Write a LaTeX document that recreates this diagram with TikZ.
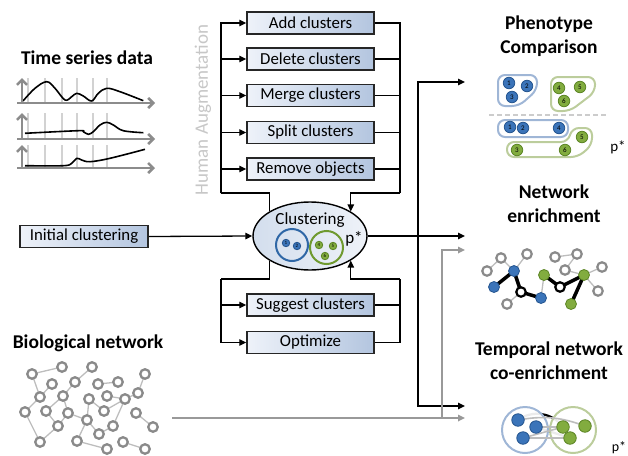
\documentclass[tikz,border=0pt]{standalone}
\usepackage{fontspec}
\setmainfont{Carlito}
\usetikzlibrary{arrows.meta,shapes.geometric}
\definecolor{boxL}{HTML}{EEF2F9}
\definecolor{boxR}{HTML}{B3C5DF}
\definecolor{ellL}{HTML}{D3DEED}
\definecolor{ellR}{HTML}{EEF2F8}
\definecolor{nblue}{HTML}{3B74B9}
\definecolor{nblueD}{HTML}{25558F}
\definecolor{ngreen}{HTML}{82AC3F}
\definecolor{ngreenD}{HTML}{5C8525}
\definecolor{hblue}{HTML}{9FB6D6}
\definecolor{hgreen}{HTML}{BCCD9C}
\definecolor{cblue}{HTML}{2F67A6}
\definecolor{cgreen}{HTML}{6F9A2F}
\definecolor{axgray}{HTML}{8C8C8C}
\definecolor{grid}{HTML}{D2D2D2}
\definecolor{ngray}{HTML}{8A8A8A}
\definecolor{egray}{HTML}{BDBDBD}
\definecolor{lgray}{HTML}{999999}
\begin{document}
\begin{tikzpicture}[x=1pt,y=-1pt,
  opbox/.style={draw=black!85, line width=1.5pt, left color=boxL, right color=boxR,
    minimum width=127pt, minimum height=22pt, inner sep=0pt, font=\fontsize{16.8}{17}\selectfont},
  ttl/.style={font=\fontsize{19.5}{24}\selectfont\bfseries, align=center},
  conn/.style={line width=1.3pt, draw=black},
  arr/.style={conn, -{Triangle[length=7pt,width=6.5pt]}},
  gconn/.style={line width=1.6pt, draw=lgray},
  garr/.style={gconn, -{Triangle[length=7pt,width=6.5pt]}},
  axis/.style={line width=2.6pt, draw=axgray, -{Straight Barb[length=5pt,width=10pt]}},
  gridl/.style={line width=1.8pt, draw=grid},
  curve/.style={line width=1.6pt, draw=black, line join=round},
  bnode/.style={circle, draw=ngray, fill=white, line width=2.3pt, minimum size=9.5pt, inner sep=0pt},
  bedge/.style={line width=1.3pt, draw=egray},
  pblue/.style={circle, draw=nblueD, fill=nblue, line width=0.8pt, minimum size=11.5pt, inner sep=0pt, font=\fontsize{7}{7}\selectfont},
  pgreen/.style={circle, draw=ngreenD, fill=ngreen, line width=0.8pt, minimum size=11.5pt, inner sep=0pt, font=\fontsize{7}{7}\selectfont},
  sblue/.style={pblue, minimum size=7.5pt, font=\fontsize{5}{5}\selectfont},
  sgreen/.style={pgreen, minimum size=7.5pt, font=\fontsize{5}{5}\selectfont},
  hullb/.style={draw=hblue, line width=2pt, rounded corners=7pt},
  hullg/.style={draw=hgreen, line width=2pt, rounded corners=7pt},
  enode/.style={circle, draw=ngray, fill=white, line width=2.2pt, minimum size=9.5pt, inner sep=0pt},
  kbnode/.style={circle, draw=black, fill=white, line width=2.2pt, minimum size=9.5pt, inner sep=0pt},
  eblue/.style={circle, draw=nblueD, fill=nblue, line width=0.8pt, minimum size=11pt, inner sep=0pt},
  egreen/.style={circle, draw=ngreenD, fill=ngreen, line width=0.8pt, minimum size=11pt, inner sep=0pt},
  thin/.style={line width=1.3pt, draw=egray},
  thick/.style={line width=3.5pt, draw=black},
  pstar/.style={font=\fontsize{17}{17}\selectfont}
]
\useasboundingbox (0,0) rectangle (628,455);

% ---------- Time series ----------
\node[ttl] (tsd) at (87,58) {Time series data};
\foreach \ax/\ay in {103/78, 139/113, 168/145}{
  \foreach \gx in {28,45,62,77,93,107}{
    \draw[gridl] (\gx,\ax) -- (\gx,\ay);
  }
}
\draw[curve] plot[smooth, tension=0.6] coordinates {(23,101) (35,88.3) (46.7,81.7) (55,88.3) (65,100) (71.7,96.7) (76.7,93.3) (83.3,96) (91.7,101) (98.3,93.3) (106.7,88.3) (120,91.7) (143.3,100.7)};
\draw[curve] plot[smooth, tension=0.6] coordinates {(25,133.3) (78.3,130.7) (83.3,131.7) (88.3,134.3) (93.3,131.7) (100,125) (106.7,122.3) (113.3,125) (123.3,130.7) (143.3,132.7)};
\draw[curve] plot[smooth, tension=0.6] coordinates {(25,165.7) (63.3,165.7) (71.7,163.3) (76.7,158.3) (81.7,160) (90,161.7) (110,158.3) (145,149.3)};
\foreach \ax/\ay in {103/78, 139/113, 168/145}{
  \draw[axis] (17,\ax) -- (155,\ax);
  \draw[axis] (22,\ax) -- (22,\ay);
}

% ---------- Human augmentation ----------
\node[rotate=90, text=black!22, font=\fontsize{19}{19}\selectfont] (hum) at (203,110) {Human Augmentation};

% ---------- Operation boxes ----------
\node[opbox] (add) at (310.5,23) {Add clusters};
\node[opbox] (del) at (310.5,59) {Delete clusters};
\node[opbox] (mer) at (310.5,95.5) {Merge clusters};
\node[opbox] (spl) at (310.5,132.5) {Split clusters};
\node[opbox] (rem) at (310.5,169) {Remove objects};
\node[opbox] (sug) at (310.5,305) {Suggest clusters};
\node[opbox] (opt) at (310.5,342.5) {Optimize};
\node[opbox, minimum width=128pt] (init) at (84,236.5) {Initial clustering};

% ---------- Clustering ellipse ----------
\node[ellipse, draw=black, line width=1.4pt, left color=ellL, right color=ellR,
  minimum width=114pt, minimum height=68pt, inner sep=0pt] (clust) at (310,236) {};
\node[font=\fontsize{17}{17}\selectfont] (clab) at (310,220) {Clustering};
\node[circle, draw=cblue, line width=2pt, minimum size=32pt, inner sep=0pt] (cb) at (292,245) {};
\node[circle, draw=cgreen, line width=2pt, minimum size=33pt, inner sep=0pt] (cg) at (326.5,247.5) {};
\node[sblue] (i1) at (286,243) {1};
\node[sblue] (i2) at (297,246) {2};
\node[sgreen] (i4) at (319,245) {4};
\node[sgreen] (i5) at (333,246) {5};
\node[sgreen] (i6) at (325,256) {6};
\node[pstar] (cp) at (354,239) {p*};

% ---------- connectors around ellipse ----------
\coordinate (lt) at (221,193);
\coordinate (rt) at (400,193);
\coordinate (lb) at (221,279);
\coordinate (rb) at (400,279);
\draw[conn] (clust.north west) |- (lt);
\foreach \b in {add,del,mer,spl,rem}{
  \draw[arr] (lt) |- (\b.west);
  \draw[conn] (\b.east) -| (rt);
}
\draw[arr] (rt) -| (clust.north east);
\draw[conn] (clust.south west) |- (lb);
\foreach \b in {sug,opt}{
  \draw[arr] (lb) |- (\b.west);
  \draw[conn] (\b.east) -| (rb);
}
\draw[arr] (rb) -| (clust.south east);
\draw[arr] (init.east) -- (clust.west);

% ---------- outputs ----------
\coordinate (split) at (418,236);
\coordinate (tphen) at (465,82);
\coordinate (tnet) at (465,236);
\coordinate (ttemp) at (465,406);
\draw[conn] (clust.east) -- (split);
\draw[arr] (split) -- (tnet);
\draw[arr] (split) |- (tphen);
\draw[arr] (split) |- (ttemp);
\coordinate (gstart) at (172,418);
\coordinate (gsplit) at (442,418);
\coordinate (gtemp) at (465,418);
\coordinate (gnet) at (465,250);
\draw[garr] (gstart) -- (gtemp);
\draw[garr] (gsplit) |- (gnet);

% ---------- Biological network ----------
\node[ttl] (bio) at (88,343) {Biological network};
\foreach \n/\x/\y in {a/32/374, b/62/367, c/92/367, d/52/384, e/75/382, f/40/397, g/63/396,
  h/98/384, i/118/382, j/145/374, k/107/396, l/138/393, m/125/399, n/25/412, o/46/411,
  p/68/413, q/89/399, r/104/411, s/136/413, t/87/420, u/58/426, v/113/426, w/153/427,
  x/99/434, y/40/442, z/77/441, A/123/442, B/107/449, C/145/449}{
  \coordinate (bc\n) at (\x,\y);
}
\foreach \p/\q in {a/b, c/e, a/f, d/f, e/g, g/o, f/n, n/y, y/u, u/o, u/p, g/p, p/t, t/q,
  t/z, t/x, z/B, q/r, h/i, k/m, r/m, m/l, l/j, m/v, s/w, A/C, x/v}{
  \draw[bedge] (bc\p) -- (bc\q);
}
\foreach \n in {a,b,c,d,e,f,g,h,i,j,k,l,m,n,o,p,q,r,s,t,u,v,w,x,y,z,A,B,C}{
  \node[bnode] (bn\n) at (bc\n) {};
}

% ---------- Phenotype comparison ----------
\node[ttl] (phen) at (549,36) {Phenotype\\Comparison};
\draw[hullb] (498,75) -- (537,75) -- (537,90) -- (519,106) -- (498,106) -- cycle;
\draw[hullg] (551,77) -- (595,77) -- (595,92) -- (570,111) -- (551,111) -- cycle;
\draw[line width=1.3pt, draw=black!20, dash pattern=on 5pt off 3pt] (489,115) -- (608,115);
\draw[hullb] (498,120) rectangle (568,137);
\draw[hullg] (507,142) -- (568,142) -- (572,128) -- (592,128) -- (592,145) -- (578,157) -- (507,157) -- cycle;
\node[pblue] (pa1) at (509,83) {1};
\node[pblue] (pa2) at (527,86) {2};
\node[pblue] (pa3) at (512,97) {3};
\node[pgreen] (pa4) at (559,88) {4};
\node[pgreen] (pa5) at (580,87) {5};
\node[pgreen] (pa6) at (564,101) {6};
\node[pblue] (pb1) at (510,127) {1};
\node[pblue] (pb2) at (523,128) {2};
\node[pblue] (pb4) at (559,128) {4};
\node[pgreen] (pb5) at (582,137) {5};
\node[pgreen] (pb3) at (517,150) {3};
\node[pgreen] (pb6) at (565,150) {6};
\node[pstar, font=\fontsize{15}{15}\selectfont] (pp) at (618,147) {p*};

% ---------- Network enrichment ----------
\node[ttl] (nen) at (554,204) {Network\\enrichment};
\foreach \n/\x/\y in {g1/487/271, g2/501/258, g3/527/254, B1/514/271, B2/494/287, W1/521/292,
  B3/541/298, g4/507/304, G1/544/275, g5/555/257, g6/577/254, g7/565/270, W2/560/287,
  G2/584/275, g8/602/267, g9/598/291, G3/571/304}{
  \coordinate (ec\n) at (\x,\y);
}
\foreach \p/\q in {g1/g2, g2/B1, B1/g3, W1/g4, B3/G1, g5/g6, g6/g7, g7/G2, G2/g8, G2/g9}{
  \draw[thin] (ec\p) -- (ec\q);
}
\foreach \p/\q in {B1/B2, B1/W1, W1/B3, G1/W2, W2/G2, G2/G3}{
  \draw[thick] (ec\p) -- (ec\q);
}
\foreach \n in {g1,g2,g3,g4,g5,g6,g7,g8,g9}{ \node[enode] (en\n) at (ec\n) {}; }
\foreach \n in {W1,W2}{ \node[kbnode] (en\n) at (ec\n) {}; }
\foreach \n in {B1,B2,B3}{ \node[eblue] (en\n) at (ec\n) {}; }
\foreach \n in {G1,G2,G3}{ \node[egreen] (en\n) at (ec\n) {}; }

% ---------- Temporal network co-enrichment ----------
\node[ttl] (tem) at (549,361) {Temporal network\\co-enrichment};
\coordinate (tb1) at (518,420);
\coordinate (tb2) at (536,427);
\coordinate (tb3) at (523,438);
\coordinate (tg1) at (563,427);
\coordinate (tg2) at (585,426);
\coordinate (tg3) at (570,438);
\draw[line width=2.2pt] (tb1) to[bend left=45] (tg1);
\draw[line width=2.2pt] (tb2) -- (tg1);
\draw[line width=2.2pt] (tb2) -- (tg3);
\draw[line width=2.2pt] (tb3) -- (tg3);
\node[circle, draw=hblue, line width=2pt, fill=white, fill opacity=0.92, minimum size=46pt, inner sep=0pt] (tcb) at (525,430) {};
\node[circle, draw=hgreen, line width=2pt, fill=white, fill opacity=0.92, minimum size=46pt, inner sep=0pt] (tcg) at (573,430) {};
\draw[thin, line width=1.6pt] (tb1) to[bend left=15] (tg2);
\draw[thin, line width=1.6pt] (tb2) -- (tg1);
\draw[thin, line width=1.6pt] (tb3) -- (tg1);
\draw[thin, line width=1.6pt] (tb3) -- (tg3);
\node[eblue, minimum size=12.5pt] (tn1) at (tb1) {};
\node[eblue, minimum size=12.5pt] (tn2) at (tb2) {};
\node[eblue, minimum size=12.5pt] (tn3) at (tb3) {};
\node[egreen, minimum size=12.5pt] (tn4) at (tg1) {};
\node[egreen, minimum size=12.5pt] (tn5) at (tg2) {};
\node[egreen, minimum size=12.5pt] (tn6) at (tg3) {};
\node[pstar, font=\fontsize{14}{14}\selectfont] (tp) at (619,448) {p*};
\end{tikzpicture}
\end{document}
